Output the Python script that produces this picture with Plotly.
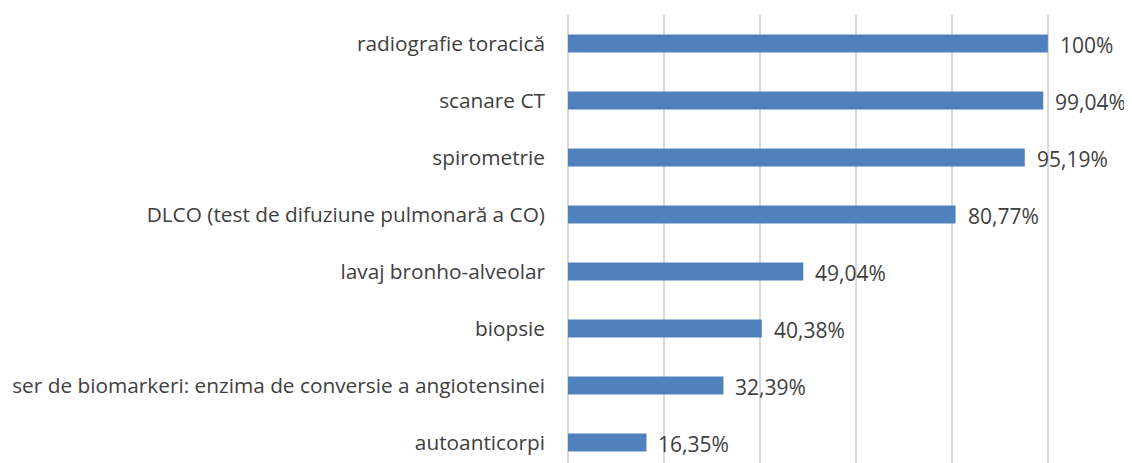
import plotly.graph_objects as go

categories = [
    "radiografie toracică",
    "scanare CT",
    "spirometrie",
    "DLCO (test de difuziune pulmonară a CO)",
    "lavaj bronho-alveolar",
    "biopsie",
    "ser de biomarkeri: enzima de conversie a angiotensinei",
    "autoanticorpi",
]
values = [1.00, 0.9904, 0.9519, 0.8077, 0.4904, 0.4038, 0.3239, 0.1635]
labels = ["100%", "99,04%", "95,19%", "80,77%", "49,04%", "40,38%", "32,39%", "16,35%"]

font_family = "Open Sans, Noto Sans, sans-serif"
text_color = "#404040"
label_size = 21
tick_size = 20.8

fig = go.Figure(
    go.Bar(
        x=values,
        y=categories,
        orientation="h",
        marker=dict(color="#4F81BD", line=dict(width=0)),
        hoverinfo="skip",
    )
)

for v, c, t in zip(values, categories, labels):
    fig.add_annotation(
        x=v, y=c, text=t, showarrow=False,
        xanchor="left", yanchor="middle", xshift=10, yshift=-1,
        font=dict(family=font_family, size=label_size, color=text_color),
    )

fig.update_layout(
    width=1132,
    height=463,
    margin=dict(l=560, r=0, t=7, b=0, autoexpand=False),
    paper_bgcolor="white",
    plot_bgcolor="white",
    bargap=0.685,
    showlegend=False,
    font=dict(family=font_family, size=tick_size, color=text_color),
)
fig.update_xaxes(
    range=[0, 1.192],
    dtick=0.2,
    tick0=0,
    showgrid=True,
    gridcolor="#D9D9D9",
    gridwidth=1.5,
    zeroline=True,
    zerolinecolor="#D9D9D9",
    zerolinewidth=1.5,
    showticklabels=False,
    showline=False,
    automargin=False,
)
fig.update_yaxes(
    categoryorder="array",
    categoryarray=categories,
    range=[7.5, -0.5],
    showgrid=False,
    showline=False,
    ticks="",
    ticklabelstandoff=22,
    automargin=False,
    tickfont=dict(family=font_family, size=tick_size, color=text_color),
)

fig.write_html("out.html")
